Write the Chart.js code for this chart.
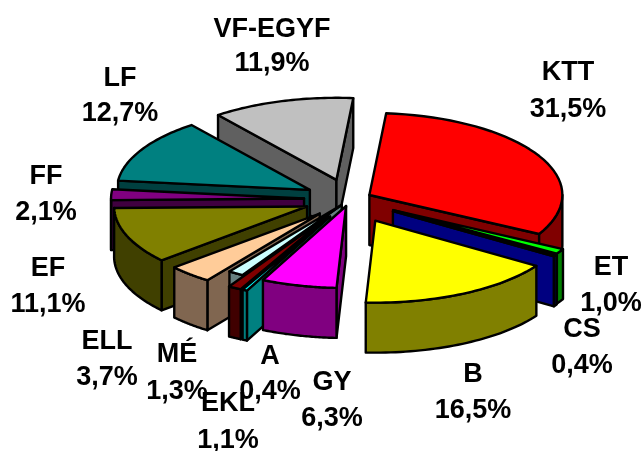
<!DOCTYPE html>
<html>
<head>
<meta charset="utf-8">
<title>Pie</title>
<script src="https://cdn.jsdelivr.net/npm/chart.js@4/dist/chart.umd.min.js"></script>
<style>
  html, body { margin: 0; padding: 0; background: #fff; }
  canvas { display: block; }
</style>
</head>
<body>
<canvas id="chart" width="644" height="451"></canvas>
<script>
// Data
const categories = ['KTT', 'ET', 'CS', 'B', 'GY', 'A', 'EKL', 'MÉ', 'ELL', 'EF', 'FF', 'LF', 'VF-EGYF'];
const shares = [31.5, 1.0, 0.4, 16.5, 6.3, 0.4, 1.1, 1.3, 3.7, 11.1, 2.1, 12.7, 11.9];
const percentLabels = ['31,5%', '1,0%', '0,4%', '16,5%', '6,3%', '0,4%', '1,1%', '1,3%', '3,7%', '11,1%', '2,1%', '12,7%', '11,9%'];

// Slice look
const topColors = ['#ff0000', '#00ff00', '#0000ff', '#ffff00', '#ff00ff', '#00ffff', '#800000', '#ccffff', '#ffcc99', '#808000', '#800080', '#008080', '#c0c0c0'];
const wallColors = ['#800000', '#008000', '#000080', '#808000', '#800080', '#008080', '#400000', '#668080', '#806650', '#404000', '#400040', '#004040', '#606060'];
const explode = [22, 50, 51, 56, 16, 45, 45, 15, 45, 46, 46, 46, 48];

// Back slices first, so the front ones paint over them
const drawOrder = [12, 11, 10, 9, 8, 7, 6, 5, 4, 0, 1, 2, 3];

// Where each label's two lines are centred
const labelPos = [
  [568, 73, 110], [611, 268, 304], [582, 330, 366], [473, 375, 411], [332, 383, 419],
  [270, 357, 392], [228, 404, 441], [177, 355, 392], [107, 342, 378], [48, 269, 305],
  [46, 177, 213], [120, 79, 114], [272, 30, 64]
];

const PIE_X = 350;
const PIE_Y = 199.4;
const SQUASH = 0.425;
const DEPTH = 50;

// Map a point of the flat pie onto the tilted plane
function project(arc, off, r, angle, z) {
  const mid = (arc.startAngle + arc.endAngle) / 2;
  return [
    PIE_X + Math.cos(mid) * off + Math.cos(angle) * r,
    PIE_Y + SQUASH * (Math.sin(mid) * off + Math.sin(angle) * r) + z
  ];
}

function strokeFill(ctx, points, color) {
  ctx.beginPath();
  points.forEach((p, i) => (i ? ctx.lineTo(p[0], p[1]) : ctx.moveTo(p[0], p[1])));
  ctx.closePath();
  ctx.fillStyle = color;
  ctx.fill();
  ctx.stroke();
}

function screenArea(points) {
  let area = 0;
  points.forEach((p, i) => {
    const q = points[(i + 1) % points.length];
    area += p[0] * q[1] - q[0] * p[1];
  });
  return area;
}

function drawWalls(ctx, arc, off, color) {
  const r = arc.outerRadius;
  const radial = [
    [arc.startAngle, 1],
    [arc.endAngle, -1]
  ];
  radial.forEach(([angle, dir]) => {
    const pts = [project(arc, off, 0, 0, 0), project(arc, off, r, angle, 0), project(arc, off, r, angle, DEPTH), project(arc, off, 0, 0, DEPTH)];
    if (screenArea(pts) * dir < 0) strokeFill(ctx, pts, color);
  });

  // Outer wall, only the part that faces the viewer
  const twoPi = Math.PI * 2;
  for (let k = -1; k <= 1; k++) {
    const from = Math.max(arc.startAngle, k * twoPi);
    const to = Math.min(arc.endAngle, k * twoPi + Math.PI);
    if (to <= from) continue;
    const front = [];
    const back = [];
    for (let i = 0; i <= 40; i++) {
      const a = from + (to - from) * i / 40;
      front.push(project(arc, off, r, a, 0));
      back.unshift(project(arc, off, r, a, DEPTH));
    }
    strokeFill(ctx, front.concat(back), color);
  }
}

function drawTop(ctx, arc, off) {
  const mid = (arc.startAngle + arc.endAngle) / 2;
  // Fill through the arc element, squashed onto the tilted plane
  ctx.save();
  ctx.translate(PIE_X, PIE_Y);
  ctx.scale(1, SQUASH);
  ctx.translate(Math.cos(mid) * off - arc.x, Math.sin(mid) * off - arc.y);
  arc.draw(ctx);
  ctx.restore();

  // Outline with an even pen
  const pts = [project(arc, off, 0, 0, 0)];
  for (let i = 0; i <= 40; i++) {
    pts.push(project(arc, off, arc.outerRadius, arc.startAngle + (arc.endAngle - arc.startAngle) * i / 40, 0));
  }
  ctx.beginPath();
  pts.forEach((p, i) => (i ? ctx.lineTo(p[0], p[1]) : ctx.moveTo(p[0], p[1])));
  ctx.closePath();
  ctx.stroke();
}

const tiltedPie = {
  id: 'tiltedPie',
  beforeDatasetsDraw(chart) {
    const ctx = chart.ctx;
    const arcs = chart.getDatasetMeta(0).data;
    ctx.save();
    ctx.strokeStyle = '#000';
    ctx.lineWidth = 2.4;
    ctx.lineJoin = 'round';
    drawOrder.forEach(i => {
      drawWalls(ctx, arcs[i], explode[i], wallColors[i]);
      drawTop(ctx, arcs[i], explode[i]);
    });
    ctx.restore();
    return false;
  },
  afterDraw(chart) {
    const ctx = chart.ctx;
    ctx.save();
    ctx.fillStyle = '#000';
    ctx.font = 'bold 27px "Liberation Sans", Arial, sans-serif';
    ctx.textAlign = 'center';
    ctx.textBaseline = 'middle';
    categories.forEach((name, i) => {
      const [x, y1, y2] = labelPos[i];
      ctx.fillText(name, x, y1);
      ctx.fillText(percentLabels[i], x, y2);
    });
    ctx.restore();
  }
};

new Chart(document.getElementById('chart').getContext('2d'), {
  type: 'pie',
  data: {
    labels: categories,
    datasets: [{
      data: shares,
      backgroundColor: topColors,
      borderWidth: 0
    }]
  },
  options: {
    responsive: false,
    animation: false,
    rotation: 5,
    radius: 193,
    plugins: {
      legend: { display: false },
      tooltip: { enabled: false }
    }
  },
  plugins: [tiltedPie]
});
</script>
</body>
</html>
